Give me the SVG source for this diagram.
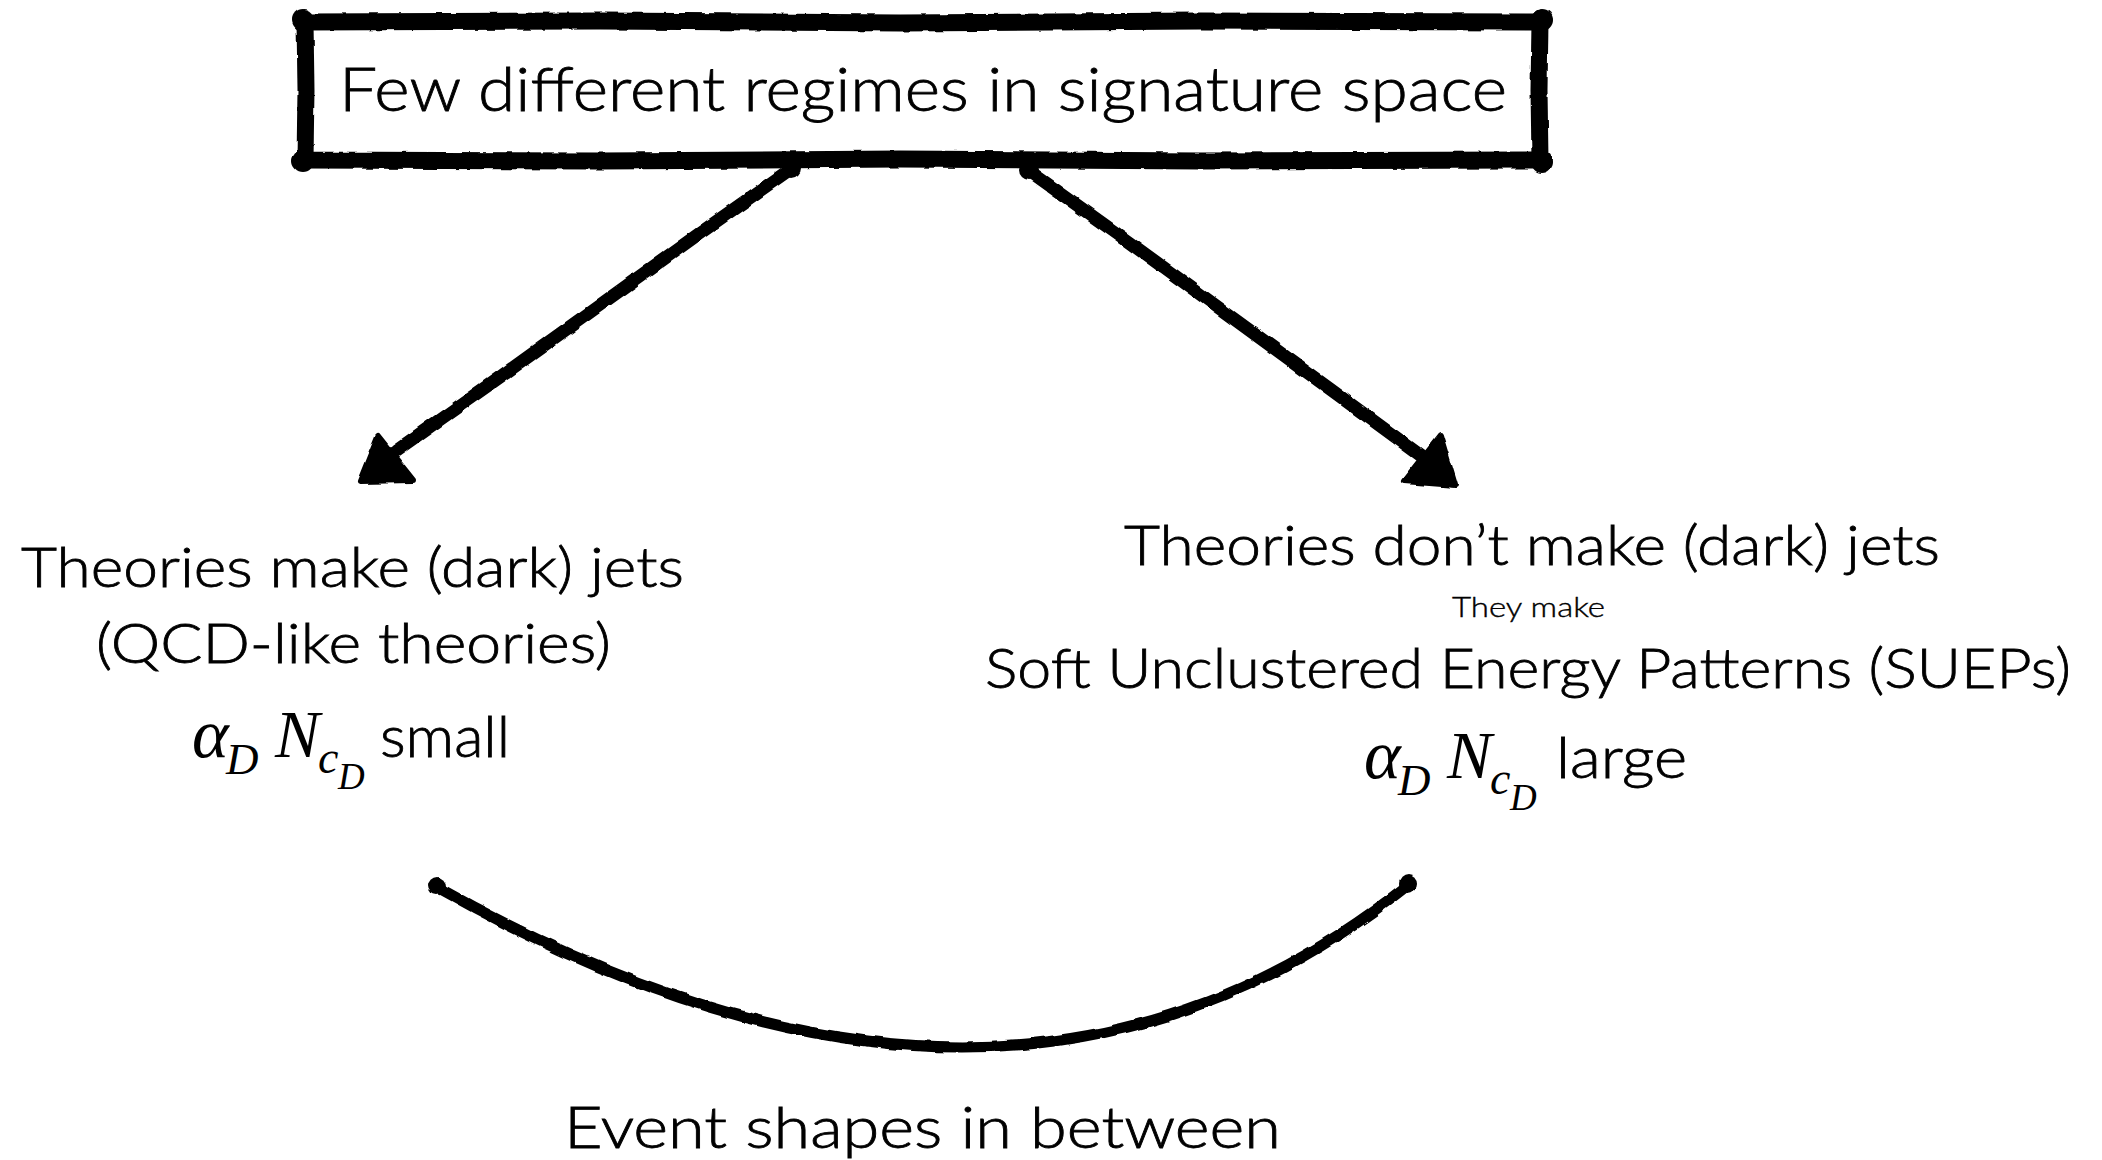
<svg xmlns="http://www.w3.org/2000/svg" width="2102" height="1160" viewBox="0 0 2102 1160">
  <defs>
    <filter id="rough" x="-5%" y="-5%" width="110%" height="110%">
      <feTurbulence type="fractalNoise" baseFrequency="0.06" numOctaves="2" seed="3" result="n"/>
      <feDisplacementMap in="SourceGraphic" in2="n" scale="4" xChannelSelector="R" yChannelSelector="G"/>
    </filter>
    <style>
      .lbl { font-family: Lato, "Open Sans", "Liberation Sans", sans-serif; font-weight: 300; fill: #000; stroke: #000; stroke-width: 0.8; }
      .math { font-family: "Liberation Serif", "DejaVu Serif", serif; font-style: italic; fill: #000; }
      .ink { fill: none; stroke: #000; stroke-linecap: round; stroke-linejoin: round; }
      .head { fill: #000; stroke: #000; stroke-width: 6; stroke-linejoin: round; }
    </style>
  </defs>
  <rect width="2102" height="1160" fill="#fff"/>

  <g id="node-top">
    <g filter="url(#rough)">
      <path class="ink" stroke-width="17" d="M305,22 L600,21 L900,23 L1200,21 L1540,22 L1539,90 L1540,160 L1200,161 L900,159 L600,161 L305,160 L306,90 Z"/>
      <circle cx="303" cy="20" r="11"/>
      <circle cx="1542" cy="20" r="11"/>
      <circle cx="303" cy="161" r="11"/>
      <circle cx="1542" cy="162" r="11"/>
    </g>
    <text class="lbl" x="339" y="111" font-size="62" textLength="1168" lengthAdjust="spacingAndGlyphs">Few different regimes in signature space</text>
  </g>

  <g id="node-left">
    <text class="lbl" x="21" y="587" font-size="56" textLength="663" lengthAdjust="spacingAndGlyphs">Theories make (dark) jets</text>
    <text class="lbl" x="96" y="663" font-size="56" textLength="515" lengthAdjust="spacingAndGlyphs">(QCD-like theories)</text>
    <text class="math" x="192" y="757" font-size="70">α</text>
    <text class="math" x="226" y="774" font-size="45">D</text>
    <text class="math" x="275" y="757" font-size="67">N</text>
    <text class="math" x="318" y="773" font-size="46">c</text>
    <text class="math" x="338" y="789" font-size="37">D</text>
    <text class="lbl" x="380" y="757" font-size="57" textLength="130" lengthAdjust="spacingAndGlyphs">small</text>
  </g>

  <g id="node-right">
    <text class="lbl" x="1124" y="565" font-size="56" textLength="816" lengthAdjust="spacingAndGlyphs">Theories don’t make (dark) jets</text>
    <text class="lbl" x="1452" y="617" font-size="28" textLength="153" lengthAdjust="spacingAndGlyphs" style="stroke-width:0.4">They make</text>
    <text class="lbl" x="985" y="688" font-size="56" textLength="1086" lengthAdjust="spacingAndGlyphs">Soft Unclustered Energy Patterns (SUEPs)</text>
    <text class="math" x="1364" y="778" font-size="70">α</text>
    <text class="math" x="1398" y="795" font-size="45">D</text>
    <text class="math" x="1447" y="778" font-size="67">N</text>
    <text class="math" x="1490" y="794" font-size="46">c</text>
    <text class="math" x="1510" y="810" font-size="37">D</text>
    <text class="lbl" x="1556" y="778" font-size="57" textLength="131" lengthAdjust="spacingAndGlyphs">large</text>
  </g>

  <g id="node-bottom">
    <text class="lbl" x="564" y="1148" font-size="58" textLength="717" lengthAdjust="spacingAndGlyphs">Event shapes in between</text>
  </g>

  <g id="connectors" filter="url(#rough)">
    <g id="arrow-left">
      <path class="ink" stroke-width="13" d="M792,168 L700,233 L600,305 L500,377 L397,450"/>
      <circle cx="791" cy="168" r="10"/>
      <polygon class="head" points="378,436 360,481 413,480"/>
    </g>
    <g id="arrow-right">
      <path class="ink" stroke-width="13" d="M1028,170 L1130,243 L1230,316 L1330,389 L1420,455"/>
      <circle cx="1029" cy="170" r="10"/>
      <polygon class="head" points="1440,435 1404,481 1455,485"/>
    </g>
    <g id="curve-between">
      <path class="ink" stroke-width="11" d="M437,887 Q1004,1208 1408,885"/>
      <circle cx="437" cy="886" r="9"/>
      <circle cx="1408" cy="884" r="9"/>
    </g>
  </g>
</svg>
